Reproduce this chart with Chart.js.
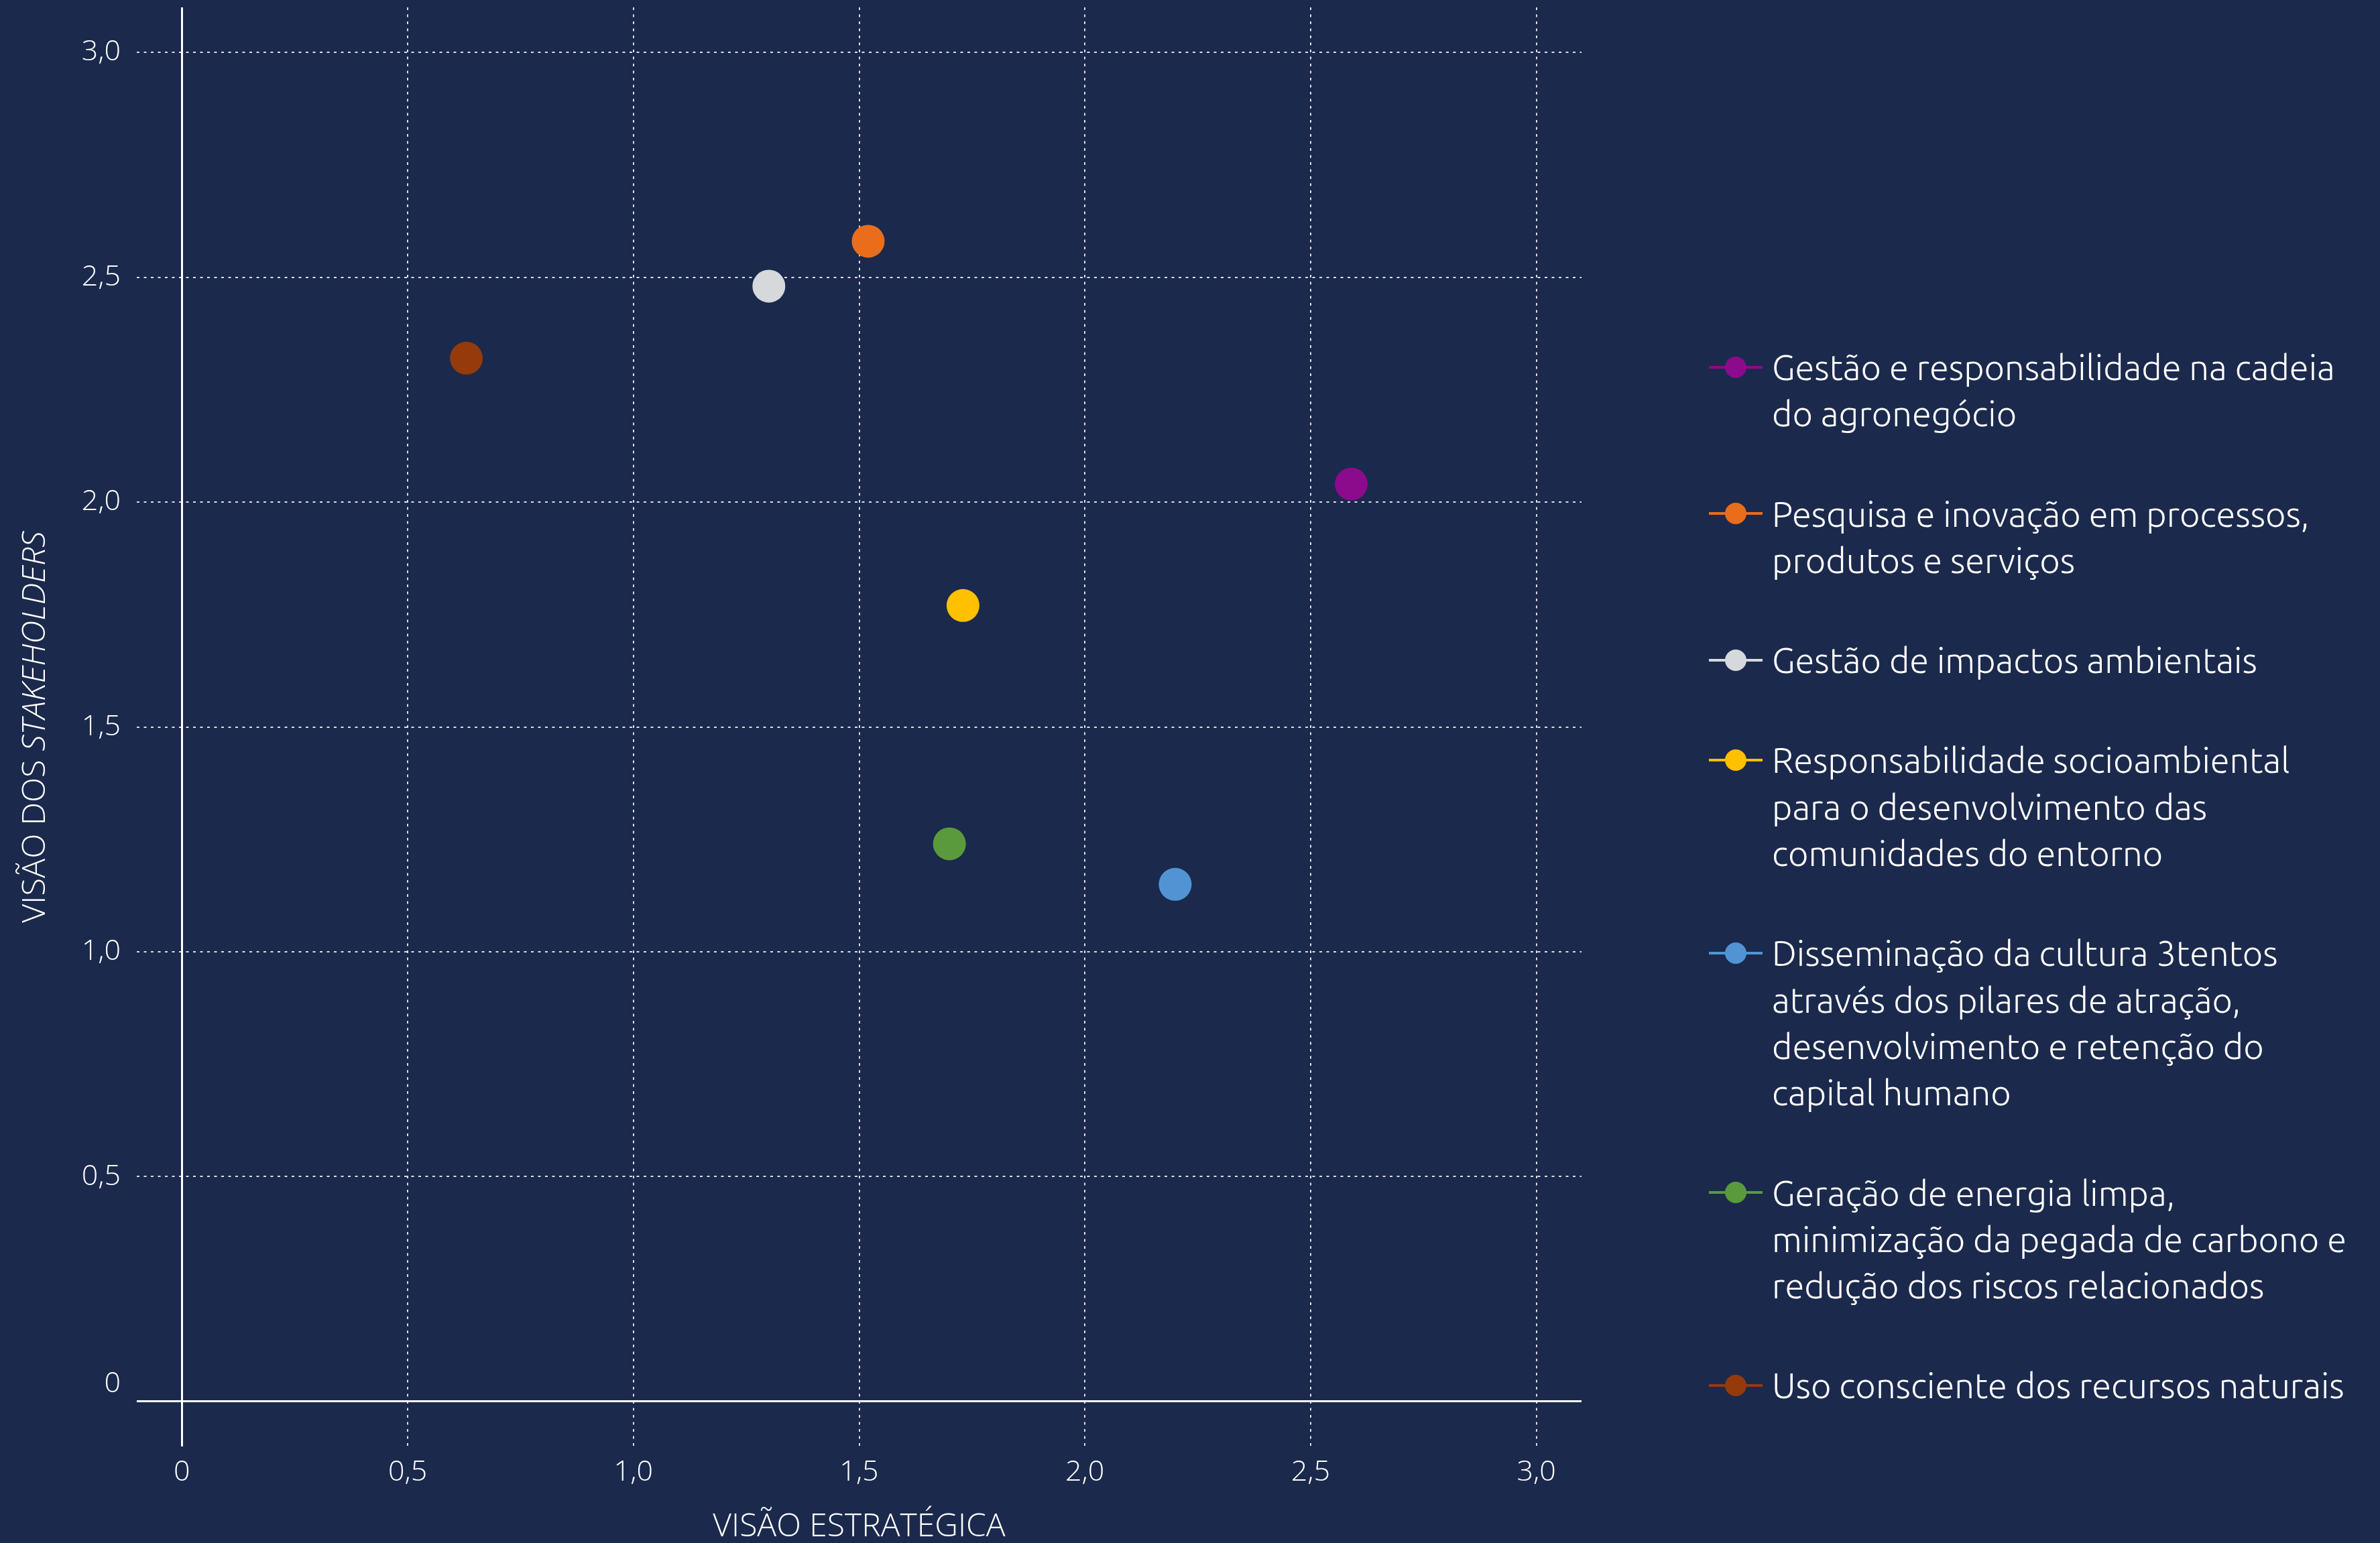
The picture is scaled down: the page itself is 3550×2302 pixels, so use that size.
<!DOCTYPE html>
<html>
<head>
<meta charset="utf-8">
<script src="https://cdn.jsdelivr.net/npm/chart.js@4.4.0/dist/chart.umd.min.js"></script>
<style>
html,body{margin:0;padding:0;background:#1b294c;width:3550px;height:2302px;overflow:hidden;}
#wrap{position:absolute;left:0;top:0;width:2420px;height:2302px;}
#legend{position:absolute;left:2549px;top:513px;width:1000px;color:#fff;font-family:Ubuntu,"Lato",sans-serif;font-weight:300;font-size:52.5px;line-height:69.3px;}
.item{display:flex;align-items:flex-start;margin-bottom:80px;}
.icon{position:relative;width:80px;height:69.3px;flex:none;}
.icon .ln{position:absolute;left:0;right:0;top:32.6px;height:4px;}
.icon .dot{position:absolute;left:24px;top:18.6px;width:32px;height:32px;border-radius:50%;}
.txt{margin-left:14px;white-space:nowrap;}
</style>
</head>
<body>
<div id="wrap"><canvas id="c" width="2420" height="2302"></canvas></div>
<div id="legend"></div>
<script>
// ---- data ----
const categories = [
  ["Gestão e responsabilidade na cadeia", "do agronegócio"],
  ["Pesquisa e inovação em processos,", "produtos e serviços"],
  ["Gestão de impactos ambientais"],
  ["Responsabilidade socioambiental", "para o desenvolvimento das", "comunidades do entorno"],
  ["Disseminação da cultura 3tentos", "através dos pilares de atração,", "desenvolvimento e retenção do", "capital humano"],
  ["Geração de energia limpa,", "minimização da pegada de carbono e", "redução dos riscos relacionados"],
  ["Uso consciente dos recursos naturais"]
];
const xValues = [2.59, 1.52, 1.30, 1.73, 2.20, 1.70, 0.63];   // Visão estratégica
const yValues = [2.04, 2.58, 2.48, 1.77, 1.15, 1.24, 2.32];   // Visão dos stakeholders
const colors = ["#8c0a8c", "#e96d1b", "#d5d9dc", "#ffc000", "#5294d3", "#5a9a3c", "#943a0b"];
const xTickValues = [0, 0.5, 1, 1.5, 2, 2.5, 3];
const xTickLabels = ["0", "0,5", "1,0", "1,5", "2,0", "2,5", "3,0"];
const yTickValues = [0, 0.5, 1, 1.5, 2, 2.5, 3];
const yTickLabels = ["0", "0,5", "1,0", "1,5", "2,0", "2,5", "3,0"];
const xTitle = "VISÃO ESTRATÉGICA";
const yTitleParts = ["VISÃO DOS ", "STAKEHOLDERS"];
const axisMin = -0.1, axisMax = 3.1;

// ---- chart ----
const titleFont = '"Open Sans"';
const yTitlePlugin = {
  id: 'yTitle',
  afterDraw(chart) {
    const {ctx, chartArea} = chart;
    const cy = (chartArea.top + chartArea.bottom) / 2;
    ctx.save();
    ctx.translate(chartArea.left - 151, cy);
    ctx.rotate(-Math.PI / 2);
    ctx.fillStyle = '#ffffff';
    ctx.textBaseline = 'middle';
    ctx.textAlign = 'left';
    const f1 = '300 48.5px ' + titleFont, f2 = 'italic 300 48.5px ' + titleFont;
    ctx.font = f1; const w1 = ctx.measureText(yTitleParts[0]).width;
    ctx.font = f2; const w2 = ctx.measureText(yTitleParts[1]).width;
    const x0 = -(w1 + w2) / 2;
    ctx.font = f1; ctx.fillText(yTitleParts[0], x0, 0);
    ctx.font = f2; ctx.fillText(yTitleParts[1], x0 + w1, 0);
    ctx.restore();
  }
};

const isZero = c => c.tick && c.tick.value === 0;
const gridCfg = {
  drawTicks: false,
  color: c => isZero(c) ? '#ffffff' : 'rgba(255,255,255,0.85)',
  lineWidth: c => isZero(c) ? 3 : 2
};
const borderCfg = { display: false, dash: c => isZero(c) ? [] : [4, 6.5] };
const tickFont = { family: 'Open Sans', weight: 300, size: 43, lineHeight: 1.2 };

const datasets = categories.map((lines, i) => ({
  label: lines.join(' '),
  data: [{ x: xValues[i], y: yValues[i] }],
  backgroundColor: colors[i],
  borderColor: colors[i],
  borderWidth: 0,
  pointRadius: 24.5,
  pointHoverRadius: 24.5
}));

function build() {
  new Chart(document.getElementById('c'), {
    type: 'scatter',
    data: { datasets },
    plugins: [yTitlePlugin],
    options: {
      responsive: false,
      animation: false,
      devicePixelRatio: 1,
      layout: { autoPadding: false, padding: { left: 0, top: 11, right: 61, bottom: 0 } },
      plugins: { legend: { display: false }, tooltip: { enabled: false } },
      events: [],
      scales: {
        x: {
          type: 'linear', min: axisMin, max: axisMax,
          afterBuildTicks: s => { s.ticks = xTickValues.map(v => ({ value: v })); },
          afterFit: s => { s.height = 144; s.paddingLeft = 0; s.paddingRight = 0; },
          grid: gridCfg, border: borderCfg,
          ticks: { color: '#ffffff', font: tickFont, padding: 13, maxRotation: 0,
                   callback: (v, i) => xTickLabels[i] },
          title: { display: true, text: xTitle, color: '#ffffff',
                   font: { family: 'Open Sans', weight: 300, size: 48, lineHeight: 1 },
                   padding: { top: 0, bottom: 0 } }
        },
        y: {
          type: 'linear', min: axisMin, max: axisMax,
          afterBuildTicks: s => { s.ticks = yTickValues.map(v => ({ value: v })); },
          afterFit: s => { s.width = 204; s.paddingTop = 0; s.paddingBottom = 0; },
          grid: gridCfg, border: borderCfg,
          ticks: { color: '#ffffff', font: tickFont, padding: 24,
                   callback: (v, i) => i === 0 ? [yTickLabels[i], ''] : yTickLabels[i] }
        }
      }
    }
  });

  const lg = document.getElementById('legend');
  categories.forEach((lines, i) => {
    const item = document.createElement('div'); item.className = 'item';
    const icon = document.createElement('div'); icon.className = 'icon';
    const ln = document.createElement('div'); ln.className = 'ln'; ln.style.background = colors[i];
    const dot = document.createElement('div'); dot.className = 'dot'; dot.style.background = colors[i];
    icon.appendChild(ln); icon.appendChild(dot);
    const txt = document.createElement('div'); txt.className = 'txt';
    lines.forEach((l, k) => { if (k) txt.appendChild(document.createElement('br')); txt.appendChild(document.createTextNode(l)); });
    item.appendChild(icon); item.appendChild(txt);
    lg.appendChild(item);
  });
}

Promise.all([
  document.fonts.load('300 46px "Open Sans"'),
  document.fonts.load('italic 300 46px "Open Sans"'),
  document.fonts.load('300 50px Ubuntu')
]).catch(() => {}).then(build);
</script>
</body>
</html>
